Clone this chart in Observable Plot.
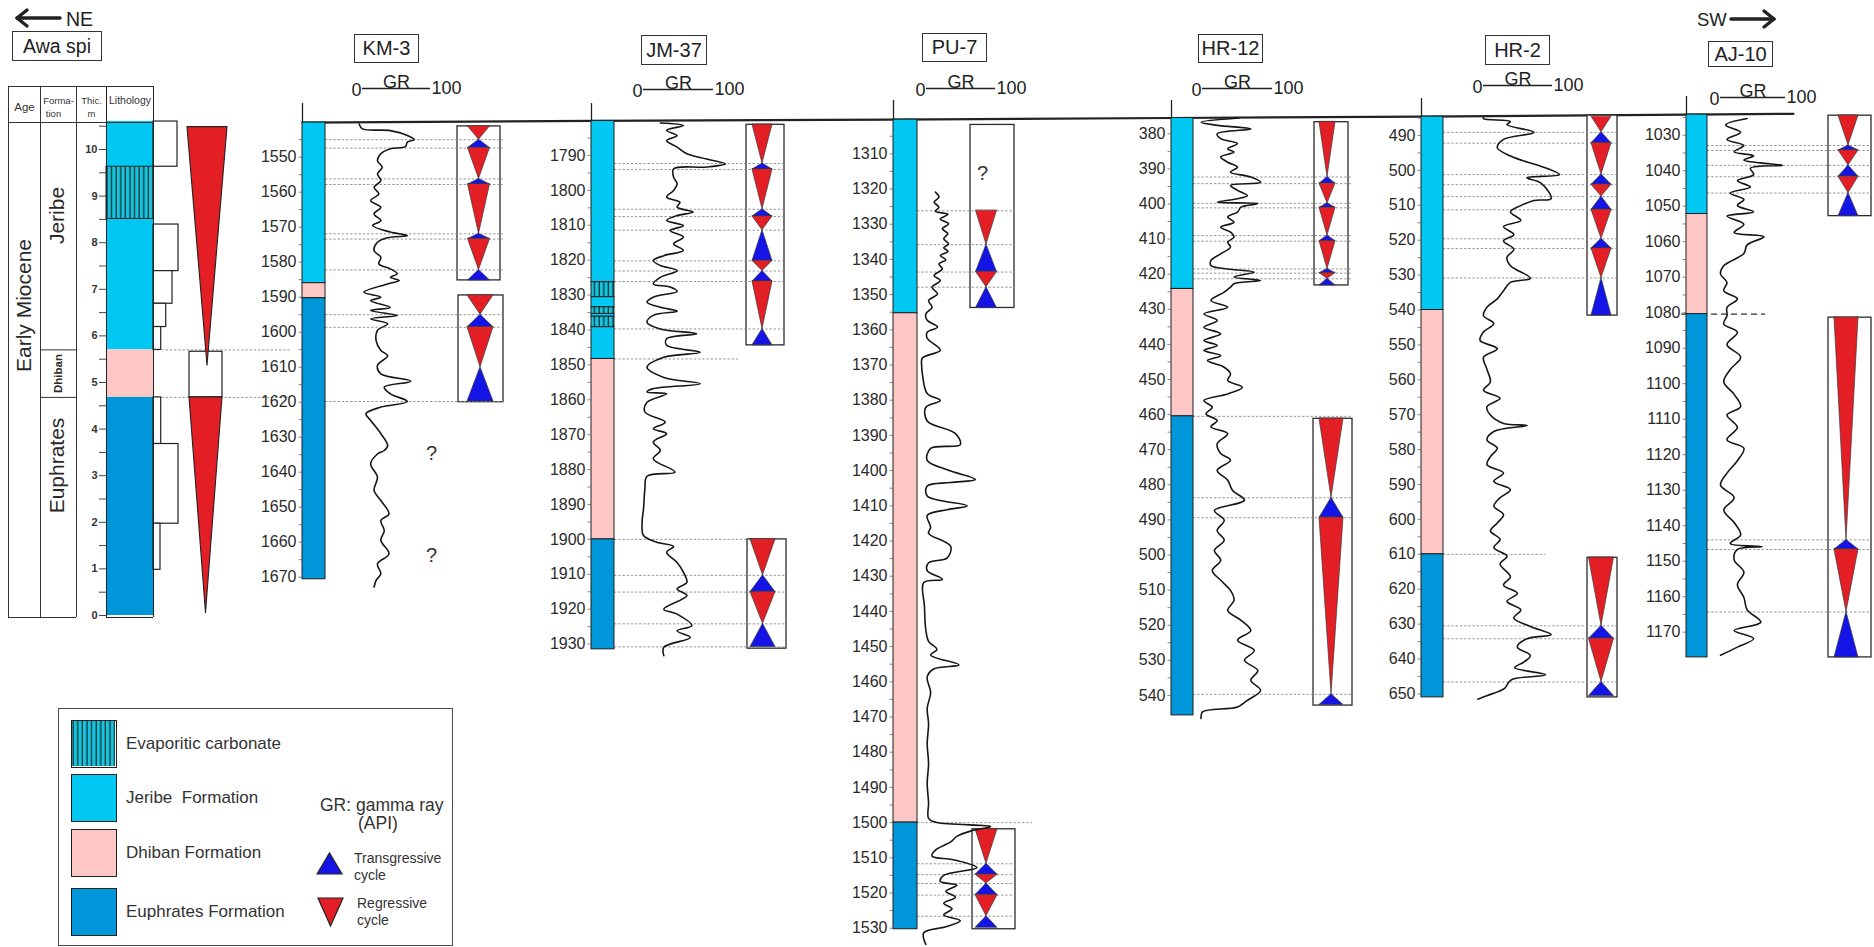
<!DOCTYPE html>
<html>
<head>
<meta charset="utf-8">
<script src="https://cdn.jsdelivr.net/npm/d3@7"></script>
<script src="https://cdn.jsdelivr.net/npm/@observablehq/plot@0.6"></script>
<style>
html,body{margin:0;padding:0;background:#fff;}
body{font-family:"Liberation Sans",Arial,Helvetica,sans-serif;color:#2a2a2a;}
#stage{position:relative;width:1874px;height:947px;overflow:hidden;background:#fff;}
.tbox{position:absolute;border:1.6px solid #333;box-sizing:border-box;display:flex;align-items:center;justify-content:center;font-size:20px;color:#222;background:#fff;}
.lbl{position:absolute;white-space:pre;line-height:1;color:#333;}
.sw{position:absolute;left:12px;width:46px;height:48px;border:1.6px solid #222;box-sizing:border-box;}
</style>
</head>
<body>
<svg width="0" height="0" style="position:absolute">
  <defs>
    <pattern id="hatch" patternUnits="userSpaceOnUse" width="4.6" height="10">
      <rect width="4.6" height="10" fill="#16c4dc"/>
      <line x1="1.2" y1="0" x2="1.2" y2="10" stroke="#10303a" stroke-width="1.3"/>
    </pattern>
  </defs>
</svg>
<div id="stage"></div>
<script>
// ================= categories =================
const wells = ["KM-3", "JM-37", "PU-7", "HR-12", "HR-2", "AJ-10"];
const legendItems = [["H", "Evaporitic carbonate"], ["J", "Jeribe  Formation"], ["D", "Dhiban Formation"], ["E", "Euphrates Formation"]];

// ================= tick labels (depth, m) =================
const km3Ticks = [1550,1560,1570,1580,1590,1600,1610,1620,1630,1640,1650,1660,1670];
const jm37Ticks = [1790,1800,1810,1820,1830,1840,1850,1860,1870,1880,1890,1900,1910,1920,1930];
const pu7Ticks = [1310,1320,1330,1340,1350,1360,1370,1380,1390,1400,1410,1420,1430,1440,1450,1460,1470,1480,1490,1500,1510,1520,1530];
const hr12Ticks = [380,390,400,410,420,430,440,450,460,470,480,490,500,510,520,530,540];
const hr2Ticks = [490,500,510,520,530,540,550,560,570,580,590,600,610,620,630,640,650];
const aj10Ticks = [1030,1040,1050,1060,1070,1080,1090,1100,1110,1120,1130,1140,1150,1160,1170];
const awaTicks = [0,1,2,3,4,5,6,7,8,9,10];

// ================= formations [code, top, bottom] (J Jeribe, H evaporitic, D Dhiban, E Euphrates) =================
const km3Formations = [["J",1540.1,1586],["D",1586,1590.3],["E",1590.3,1670.6]];
const jm37Formations = [["J",1780.1,1826.3],["H",1826.3,1830.6],["J",1830.6,1833.5],["H",1833.5,1835.4],["J",1835.4,1836.2],["H",1836.2,1839.2],["J",1839.2,1848.3],["D",1848.3,1900],["E",1900,1931.5]];
const pu7Formations = [["J",1300.3,1355.3],["D",1355.3,1500],["E",1500,1530.3]];
const hr12Formations = [["J",375.5,424.2],["D",424.2,460.5],["E",460.5,545.7]];
const hr2Formations = [["J",484.6,540],["D",540,610],["E",610,651]];
const aj10Formations = [["J",1024.2,1052.2],["D",1052.2,1080.4],["E",1080.4,1177.1]];
const awaLithology = [["J",10.6,9.63],["H",9.63,8.51],["J",8.51,5.70],["D",5.70,4.68],["E",4.68,0]];

// ================= gamma-ray logs [depth, GR API] =================
const km3GR = [[1540.5,-5],[1541.9,0],[1542.4,41],[1543.8,66],[1545.0,76],[1545.7,66],[1547.0,63],[1547.6,41],[1549.0,27],[1551.0,22],[1552.9,29],[1554.8,22],[1556.7,27],[1558.6,17],[1560.5,24],[1562.4,12],[1564.3,27],[1566.2,17],[1568.1,27],[1569.5,15],[1571.4,41],[1572.4,66],[1573.0,37],[1574.3,22],[1576.7,17],[1578.6,27],[1580.5,24],[1581.9,41],[1583.3,51],[1584.3,41],[1585.2,54],[1586.2,37],[1588.6,2],[1590.0,27],[1591.0,12],[1592.9,41],[1593.8,12],[1595.2,51],[1596.2,12],[1597.6,37],[1599.5,22],[1602.4,20],[1605.2,27],[1606.7,37],[1609.5,22],[1611.9,27],[1614.0,71],[1615.7,32],[1617.6,41],[1619.8,66],[1621.4,27],[1623.3,5],[1625.2,12],[1629.0,27],[1632.4,37],[1633.8,32],[1634.8,22],[1637.6,12],[1641.4,22],[1645.2,17],[1648.1,27],[1651.9,39],[1653.8,27],[1656.7,32],[1659.5,27],[1663.3,39],[1666.2,22],[1669.0,27],[1670.9,20],[1672.8,17]];
const jm37GR = [[1780.7,24],[1781.4,57],[1782.8,33],[1784.3,48],[1785.7,33],[1787.6,48],[1789.5,62],[1791.0,90],[1792.4,117],[1793.3,90],[1793.8,43],[1796.2,43],[1798.1,48],[1800.0,43],[1801.9,33],[1803.4,52],[1804.8,48],[1806.2,71],[1807.2,48],[1808.6,33],[1810.1,57],[1811.5,38],[1813.4,57],[1815.3,43],[1817.2,57],[1818.7,29],[1820.1,14],[1821.5,24],[1823.0,48],[1824.9,24],[1826.8,14],[1827.7,38],[1828.9,48],[1830.6,14],[1832.0,5],[1833.5,24],[1834.6,48],[1835.8,14],[1837.8,5],[1839.7,24],[1841.1,76],[1842.5,33],[1844.4,33],[1846.4,81],[1847.8,29],[1850.7,5],[1853.6,29],[1855.4,81],[1856.8,14],[1857.8,5],[1858.3,33],[1860.7,5],[1863.5,2],[1866.4,31],[1868.3,14],[1869.7,33],[1872.1,14],[1874.5,24],[1876.9,14],[1880.7,45],[1881.9,5],[1885.5,2],[1891.3,0],[1895.1,-2],[1898.9,0],[1900.8,19],[1902.0,43],[1903.7,33],[1906.6,48],[1909.4,57],[1912.3,62],[1914.2,48],[1916.1,62],[1920.0,29],[1921.4,48],[1924.7,69],[1926.2,48],[1928.1,67],[1930.9,29],[1933.3,29]];
const pu7GR = [[1320.9,13],[1322.3,18],[1323.7,11],[1325.2,18],[1326.3,13],[1327.2,31],[1328.5,20],[1329.9,32],[1331.3,23],[1332.7,31],[1334.1,25],[1335.6,32],[1336.7,25],[1337.7,31],[1338.9,20],[1340.1,28],[1341.3,18],[1342.7,23],[1344.6,11],[1346.0,20],[1347.9,8],[1349.8,16],[1351.7,3],[1353.6,8],[1355.5,-1],[1357.3,1],[1359.2,16],[1360.7,1],[1362.4,1],[1365.8,20],[1368.0,-6],[1370.3,-7],[1372.5,-6],[1378.1,1],[1380.1,20],[1382.0,-1],[1385.9,1],[1389.5,42],[1392.6,49],[1393.7,6],[1397.1,1],[1399.9,32],[1402.5,71],[1403.4,35],[1404.4,1],[1407.2,1],[1410.0,59],[1411.1,30],[1412.7,1],[1416.1,6],[1417.8,3],[1421.5,35],[1424.8,30],[1426.2,3],[1428.4,1],[1430.9,23],[1431.8,-4],[1438.5,-3],[1445.2,-1],[1448.5,3],[1450.8,15],[1452.4,6],[1455.2,47],[1456.3,11],[1458.6,1],[1463.1,6],[1467.5,1],[1472.0,3],[1477.6,1],[1483.2,3],[1488.8,1],[1494.4,3],[1498.8,3],[1500.0,15],[1501.1,93],[1502.4,64],[1503.9,44],[1505.5,35],[1507.8,13],[1509.5,8],[1510.6,40],[1512.8,73],[1515.0,25],[1516.7,20],[1517.8,44],[1519.5,28],[1521.2,42],[1522.9,25],[1524.5,37],[1526.2,25],[1527.9,49],[1529.6,28],[1531.3,-4],[1534.6,-1]];
const hr12GR = [[375.5,52],[376.7,-2],[377.6,21],[378.6,69],[380.0,21],[381.4,26],[382.8,50],[384.3,36],[385.2,45],[386.6,26],[388.1,36],[389.5,50],[390.9,40],[392.3,69],[393.8,83],[394.7,40],[396.1,50],[397.6,64],[398.5,50],[399.5,21],[399.9,79],[400.9,55],[402.3,50],[403.7,36],[405.2,45],[406.6,26],[408.0,40],[409.4,45],[410.9,36],[412.3,40],[414.2,26],[416.1,12],[417.5,12],[418.5,36],[419.4,74],[420.8,45],[421.8,83],[422.7,45],[423.7,40],[425.1,31],[427.5,12],[429.4,36],[431.3,2],[433.2,21],[435.1,2],[437.0,26],[438.9,2],[440.3,21],[441.7,2],[443.2,26],[444.6,7],[446.5,31],[448.4,40],[450.3,36],[452.2,57],[454.1,36],[456.0,2],[457.9,14],[459.8,5],[461.7,21],[463.5,12],[465.4,36],[468.3,21],[471.1,26],[473.0,40],[475.9,21],[478.7,36],[481.6,43],[484.4,60],[487.3,17],[490.1,31],[493.0,21],[495.8,31],[498.7,17],[501.5,26],[504.4,14],[507.2,26],[510.1,40],[512.9,45],[515.8,36],[518.6,55],[521.5,69],[524.3,50],[527.2,74],[530.0,60],[532.9,79],[535.7,69],[538.6,83],[541.4,64],[543.3,50],[544.7,0],[546.6,-2]];
const hr2GR = [[484.8,0],[485.2,0],[486.0,39],[486.9,34],[489.1,73],[491.1,29],[493.5,20],[495.9,39],[497.6,63],[498.8,83],[501.2,110],[502.1,63],[503.6,83],[508.1,98],[508.6,73],[510.1,54],[511.9,39],[514.3,54],[516.1,29],[518.4,44],[520.2,29],[522.6,44],[524.9,34],[527.3,39],[530.9,68],[532.1,39],[534.5,29],[536.8,20],[539.2,5],[541.6,0],[543.9,15],[546.3,0],[548.7,-5],[551.1,20],[553.5,0],[557.0,5],[560.6,10],[563.0,0],[565.3,24],[567.7,5],[570.1,10],[572.5,29],[573.1,63],[574.8,15],[577.2,5],[579.6,20],[582.0,10],[584.3,5],[586.7,29],[589.1,15],[591.5,39],[593.8,24],[596.2,15],[598.6,29],[601.0,20],[603.3,10],[605.7,24],[608.1,15],[610.5,34],[612.8,24],[616.4,39],[618.8,29],[621.2,49],[623.5,34],[625.9,54],[628.3,44],[630.7,68],[633.0,98],[634.2,63],[636.6,49],[639.0,68],[640.8,59],[642.5,45],[644.5,90],[646.0,40],[648.5,30],[650.5,5],[651.5,-8]];
const aj10GR = [[1025.3,41],[1027.1,8],[1029.2,31],[1031.2,10],[1032.9,36],[1034.7,21],[1035.8,51],[1037.0,36],[1037.8,62],[1038.5,95],[1039.3,46],[1041.1,51],[1042.8,26],[1044.6,46],[1046.3,15],[1048.1,36],[1049.8,26],[1051.6,51],[1052.8,10],[1055.1,36],[1057.4,21],[1058.6,67],[1060.9,41],[1063.3,36],[1066.8,5],[1069.1,0],[1071.5,10],[1073.8,5],[1076.1,26],[1078.5,10],[1080.8,10],[1083.2,5],[1085.5,26],[1089.0,10],[1092.5,31],[1096.0,15],[1099.5,5],[1103.0,21],[1106.5,31],[1108.8,10],[1112.3,26],[1115.8,10],[1118.2,36],[1121.7,26],[1125.2,10],[1128.6,0],[1132.1,21],[1135.6,5],[1139.1,21],[1142.6,31],[1145.0,15],[1145.9,64],[1146.7,26],[1149.6,21],[1153.1,36],[1156.6,26],[1160.2,36],[1163.7,41],[1167.2,62],[1169.5,21],[1171.8,51],[1174.2,26],[1176.5,0]];

// ================= cycle boxes [top, bottom] and cycles [type, top, bottom] (R regressive, T transgressive) =================
const km3Boxes = [[1541.2,1585.2],[1589.5,1620]];
const km3Cycles = [["R",1541.2,1545],["T",1545,1547.4],["R",1547.4,1556.2],["T",1556.2,1557.8],["R",1557.8,1571.9],["T",1571.9,1573.4],["R",1573.4,1582.2],["T",1582.2,1585.2],["R",1589.5,1595],["T",1595,1598.6],["R",1598.6,1610],["T",1610,1619.8]];
const jm37Boxes = [[1781.2,1844.4],[1900,1931.3]];
const jm37Cycles = [["R",1781.2,1792.3],["T",1792.3,1794],["R",1794,1805.4],["T",1805.4,1807.5],["R",1807.5,1811.4],["T",1811.4,1820.2],["R",1820.2,1823.1],["T",1823.1,1826.1],["R",1826.1,1839.7],["T",1839.7,1844.4],["R",1900,1910.3],["T",1910.3,1915.1],["R",1915.1,1924.2],["T",1924.2,1930.8]];
const pu7Boxes = [[1301.8,1353.8],[1501.9,1530.3]];
const pu7Cycles = [["R",1326.2,1335.8],["T",1335.8,1343.6],["R",1343.6,1347.9],["T",1347.9,1353.8],["R",1501.9,1511.7],["T",1511.7,1514.8],["R",1514.8,1517.3],["T",1517.3,1520.6],["R",1520.6,1526.6],["T",1526.6,1529.9]];
const hr12Boxes = [[376.7,423.2],[461.2,542.9]];
const hr12Cycles = [["R",376.7,392.3],["T",392.3,394.2],["R",394.2,399.8],["T",399.8,401.1],["R",401.1,409.0],["T",409.0,410.6],["R",410.6,418.5],["T",418.5,419.7],["R",419.7,421.3],["T",421.3,423.2],["R",461.2,483.7],["T",483.7,489.4],["R",489.4,539.7],["T",539.7,542.7]];
const hr2Boxes = [[484.3,541.6],[611,651]];
const hr2Cycles = [["R",484.6,489.1],["T",489.1,492.2],["R",492.2,501.2],["T",501.2,504.1],["R",504.1,507.5],["T",507.5,511.3],["R",511.3,519.6],["T",519.6,522.4],["R",522.4,530.8],["T",530.8,541.6],["R",611,630.5],["T",630.5,634.2],["R",634.2,646.6],["T",646.6,650.6]];
const aj10Boxes = [[1024.5,1052.8],[1081.4,1177.1]];
const aj10Cycles = [["R",1024.5,1032.9],["T",1032.9,1034.3],["R",1034.3,1038.5],["T",1038.5,1041.7],["R",1041.7,1046.3],["T",1046.3,1052.8],["R",1081.4,1144.0],["T",1144.0,1146.7],["R",1146.7,1164.3],["T",1164.3,1177.1]];
const awaCycles = [["R",10.48,5.36],["R",4.68,0.05]];

// ================= correlation markers (depth, m) =================
const km3Markers = [1545,1547.4,1556.2,1557.8,1571.9,1573.4,1582.2,1595,1598.6,1619.8];
const jm37Markers = [1792.3,1794,1805.4,1807.5,1811.4,1820.2,1823.1,1826.1,1839.7,1910.3,1915.1,1924.2,1930.8];
const pu7Markers = [1326.2,1335.8,1343.6,1347.9,1511.7,1514.8,1517.3,1520.6,1526.6];
const hr12Markers = [392.3,394.2,399.8,401.1,409.0,410.6,418.5,419.7,421.3,483.7,489.4,539.7];
const hr2Markers = [489.1,492.2,501.2,504.1,507.5,511.3,519.6,522.4,530.8,630.5,634.2,646.6];
const aj10Markers = [1032.9,1034.3,1038.5,1041.7,1046.3,1144.0,1146.7,1164.3];
const km3FmLines = [], jm37FmLines = [1848.3,1900], pu7FmLines = [1500], hr12FmLines = [460.5], hr2FmLines = [610], aj10FmLines = [1080.4];
const km3Unknown = [1634.8,1663.9], pu7Unknown = [1315.6];
const awaBoundaries = [5.70, 4.68];

// ================= Awa spi texture profile [top, bottom, relative size] =================
const awaTexture = [[10.6,9.63,24],[8.39,7.39,25],[7.39,6.69,19],[6.69,6.19,12.7],[6.19,5.70,7.7],[4.68,3.68,7.7],[3.68,1.97,25],[1.97,0.98,7]];
const awaGap = [[5.66,4.68]];

// ================= styles / layout =================
const W = 1874, H = 947;
const COLORS = {J:"#00c8f2", H:"url(#hatch)", D:"#fcc7c5", E:"#0097da", R:"#e31e24", T:"#1414e6"};
const colorScale = {type:"ordinal", domain:Object.keys(COLORS), range:Object.values(COLORS)};
const FONT = "'Liberation Sans', Arial, Helvetica, sans-serif";
const LAYOUT = {
  "KM-3":  {col:[302,325],   gr:[362,430],   ref:[1550,156.7], pxm:3.5,  headerY:88, tickY:103, boxX:[[457,500],[458,503]],   triC:[478.5,480], triW:[11,13],  qX:431, fmEnd:[], title:[354,34,65,29]},
  "JM-37": {col:[591,614],   gr:[643,713],   ref:[1790,155],   pxm:3.49, headerY:89, tickY:103, boxX:[[746,784],[747,786]],   triC:[762,762.5], triW:[10,12.5], fmEnd:[740,786], title:[641,35,66,30]},
  "PU-7":  {col:[893,917],   gr:[926,995],   ref:[1310,153.3], pxm:3.52, headerY:88, tickY:100, boxX:[[970,1014],[972,1015]], triC:[986,986],   triW:[10.5,11], qX:982, fmEnd:[1032], title:[922,33,65,29]},
  "HR-12": {col:[1171,1193], gr:[1202,1272], ref:[380,133.3],  pxm:3.51, headerY:88, tickY:100, boxX:[[1314,1348],[1313,1352]], triC:[1327,1331], triW:[8,12], fmEnd:[1352], title:[1198,34,65,29]},
  "HR-2":  {col:[1421,1443], gr:[1483,1552], ref:[490,135],    pxm:3.49, headerY:85, tickY:98,  boxX:[[1587,1617],[1587,1617]], triC:[1601,1601], triW:[10,12.5], fmEnd:[1545], title:[1485,35,65,30]},
  "AJ-10": {col:[1686,1707], gr:[1720,1785], ref:[1030,134.7], pxm:3.55, headerY:97, tickY:96,  boxX:[[1828,1871],[1828,1871]], triC:[1848,1846], triW:[10,12], fmEnd:[1765], fmStart:1681, fmDark:true, title:[1708,41,65,26]}
};
const DATA = {
  "KM-3":  {ticks:km3Ticks,  formations:km3Formations,  gr:km3GR,  boxes:km3Boxes,  cycles:km3Cycles,  markers:km3Markers,  fmLines:km3FmLines,  unknown:km3Unknown},
  "JM-37": {ticks:jm37Ticks, formations:jm37Formations, gr:jm37GR, boxes:jm37Boxes, cycles:jm37Cycles, markers:jm37Markers, fmLines:jm37FmLines, unknown:[]},
  "PU-7":  {ticks:pu7Ticks,  formations:pu7Formations,  gr:pu7GR,  boxes:pu7Boxes,  cycles:pu7Cycles,  markers:pu7Markers,  fmLines:pu7FmLines,  unknown:pu7Unknown},
  "HR-12": {ticks:hr12Ticks, formations:hr12Formations, gr:hr12GR, boxes:hr12Boxes, cycles:hr12Cycles, markers:hr12Markers, fmLines:hr12FmLines, unknown:[]},
  "HR-2":  {ticks:hr2Ticks,  formations:hr2Formations,  gr:hr2GR,  boxes:hr2Boxes,  cycles:hr2Cycles,  markers:hr2Markers,  fmLines:hr2FmLines,  unknown:[]},
  "AJ-10": {ticks:aj10Ticks, formations:aj10Formations, gr:aj10GR, boxes:aj10Boxes, cycles:aj10Cycles, markers:aj10Markers, fmLines:aj10FmLines, unknown:[]}
};
const AWA = {yZero:615, yTen:149, tableX:[8,40,76,106,153], triC:[207,205.5], triW:[20,16.5], gapX:[189,222], dashEnd:290};

const stage = document.getElementById("stage");
function place(svg) {
  svg.setAttribute("style", `position:absolute;left:0;top:0;background:transparent;overflow:visible;font-family:${FONT};`);
  stage.appendChild(svg);
}

// triangle polygons for areaX
function triangles(cycles, boxes, triC, triW) {
  const rows = [];
  cycles.forEach((c, i) => {
    let b = boxes.findIndex(bx => c[1] >= bx[0] - 1 && c[2] <= bx[1] + 1);
    if (b < 0) b = 0;
    const cx = triC[b], w = triW[b];
    const wide = {x1: cx - w, x2: cx + w}, apex = {x1: cx, x2: cx};
    rows.push({id: i, t: c[0], d: c[1], ...(c[0] === "R" ? wide : apex)});
    rows.push({id: i, t: c[0], d: c[2], ...(c[0] === "R" ? apex : wide)});
  });
  return rows;
}

// ================= one plot per well =================
function wellPlot(name) {
  const L = LAYOUT[name], D = DATA[name];
  const [gx0, gx1] = L.gr;
  const u = px => (px - gx0) / (gx1 - gx0) * 100;        // layout pixel -> GR units
  const [dref, yref] = L.ref;
  const dAt = py => dref + (py - yref) / L.pxm;           // layout pixel -> depth
  const top = D.formations[0][1];
  const bottom = D.formations[D.formations.length - 1][2];
  const tri = triangles(D.cycles, D.boxes, L.triC, L.triW);
  const boxRight = Math.max(...L.boxX.map(b => b[1]));
  const minor = D.ticks.flatMap(t => [t - 5, t]).filter(t => t > top && t < bottom);
  const hd = dAt(L.headerY);
  const fm = D.fmLines.map((d, i) => ({d, end: L.fmEnd[i]}));
  const marks = [
    Plot.rect(D.boxes.map((b, i) => ({y1: b[0], y2: b[1], i})), {x1: r => u(L.boxX[r.i][0]), x2: r => u(L.boxX[r.i][1]), y1: "y1", y2: "y2", fill: "white", stroke: "#2b2b2b", strokeWidth: 1.3}),
    Plot.ruleY(D.markers, {y: d => d, x1: () => u(L.col[1]), x2: () => u(boxRight), stroke: "#8a8a8a", strokeWidth: 0.9, strokeDasharray: "2.4,1.8"}),
    Plot.ruleY(fm, {y: "d", x1: () => u(L.fmStart ?? L.col[1]), x2: r => u(r.end), stroke: L.fmDark ? "#333" : "#8a8a8a", strokeWidth: L.fmDark ? 1.2 : 0.9, strokeDasharray: L.fmDark ? "6,4" : "2.4,1.8"}),
    Plot.areaX(tri, {y: "d", x1: r => u(r.x1), x2: r => u(r.x2), z: "id", fill: "t", stroke: "#3a3a3a", strokeWidth: 0.7}),
    Plot.rect(D.formations, {x1: () => u(L.col[0]), x2: () => u(L.col[1]), y1: d => d[1], y2: d => d[2], fill: d => d[0], stroke: "#1f1f1f", strokeWidth: 1}),
    Plot.ruleY(minor, {y: d => d, x1: () => u(L.col[0] - 3.5), x2: () => u(L.col[0]), stroke: "#666", strokeWidth: 0.8}),
    Plot.text(D.ticks, {x: () => u(L.col[0]), y: d => d, text: d => String(d), textAnchor: "end", dx: -6, fontSize: 16, fill: "#2a2a2a"}),
    Plot.line(D.gr, {x: d => d[1], y: d => d[0], stroke: "#161616", strokeWidth: 1.6, strokeLinejoin: "round", curve: "catmull-rom"}),
    Plot.ruleX([0], {x: () => u(L.col[0]), y1: () => dAt(L.tickY), y2: () => top, stroke: "#222", strokeWidth: 1.3}),
    Plot.ruleY([hd], {y: d => d, x1: () => 0, x2: () => 100, stroke: "#222", strokeWidth: 1.4}),
    Plot.text([0], {x: d => d, y: () => hd, text: () => "0", textAnchor: "end", dx: -1, dy: 2, fontSize: 18, fill: "#222"}),
    Plot.text([100], {x: d => d, y: () => hd, text: () => "100", textAnchor: "start", dx: 1, dy: 0, fontSize: 18, fill: "#222"}),
    Plot.text([50], {x: d => d, y: () => hd, text: () => "GR", lineAnchor: "bottom", dy: -1, fontSize: 18, fill: "#222"}),
    Plot.text(D.unknown, {x: () => u(L.qX), y: d => d, text: () => "?", fontSize: 20, fill: "#333"})
  ];
  return Plot.plot({
    width: W, height: H, margin: 0,
    x: {domain: [0, 100], range: [gx0, gx1], axis: null},
    y: {domain: [dref, dref + 100], range: [yref, yref + 100 * L.pxm], axis: null},
    color: colorScale,
    marks
  });
}

// ================= datum line linking well tops =================
const datum = wells.map(n => {
  const L = LAYOUT[n], D = DATA[n];
  return [L.col[0], L.ref[1] + (D.formations[0][1] - L.ref[0]) * L.pxm];
});
datum.push([1793, datum[datum.length - 1][1] - 0.8]);
place(Plot.plot({
  width: W, height: H, margin: 0,
  x: {domain: [0, W], range: [0, W], axis: null},
  y: {domain: [0, H], range: [0, H], axis: null},
  marks: [Plot.line(datum, {x: d => d[0], y: d => d[1], stroke: "#222", strokeWidth: 2.2})]
}));

// ================= Awa spi reference section =================
(function () {
  const tAt = py => (AWA.yZero - py) / ((AWA.yZero - AWA.yTen) / 10);
  const [xA, xF, xT, xL, xR] = AWA.tableX;
  const headTop = tAt(86), headBot = tAt(122), bot = tAt(617);
  const tri = triangles(awaCycles, [[10.6, 5], [4.7, 0]], AWA.triC, AWA.triW);
  const half = awaTicks.flatMap(t => [t, t + 0.5]);
  place(Plot.plot({
    width: W, height: H, margin: 0,
    x: {domain: [0, W], range: [0, W], axis: null},
    y: {domain: [0, 10], range: [AWA.yZero, AWA.yTen], axis: null},
    color: colorScale,
    marks: [
      Plot.rect(awaLithology, {x1: xL, x2: xR, y1: d => d[1], y2: d => d[2], fill: d => d[0]}),
      Plot.rect(awaLithology.filter(d => d[0] === "H"), {x1: xL, x2: xR, y1: d => d[1], y2: d => d[2], fill: "none", stroke: "#222", strokeWidth: 1}),
      Plot.ruleY(awaBoundaries, {y: d => d, x1: xR, x2: AWA.dashEnd, stroke: "#8a8a8a", strokeWidth: 0.9, strokeDasharray: "2.4,1.8"}),
      Plot.rect(awaTexture, {x1: xR, x2: d => xR + d[2], y1: d => d[0], y2: d => d[1], fill: "white", stroke: "#222", strokeWidth: 1.2}),
      Plot.rect(awaGap, {x1: AWA.gapX[0], x2: AWA.gapX[1], y1: d => d[0], y2: d => d[1], fill: "white", stroke: "#222", strokeWidth: 1.2}),
      Plot.areaX(tri, {y: "d", x1: "x1", x2: "x2", z: "id", fill: "t", stroke: "#222", strokeWidth: 1.1}),
      // table frame
      Plot.ruleX([xA, xF, xT], {x: d => d, y1: bot, y2: headTop, stroke: "#333", strokeWidth: 1}),
      Plot.ruleX([xL, xR], {x: d => d, y1: bot, y2: headTop, stroke: "#222", strokeWidth: 1}),
      Plot.ruleY([headTop, headBot], {y: d => d, x1: xA, x2: xR, stroke: "#333", strokeWidth: 1}),
      Plot.ruleY([bot], {y: d => d, x1: xA, x2: xT, stroke: "#333", strokeWidth: 1}),
      Plot.ruleY([bot], {y: d => d, x1: xL, x2: xR, stroke: "#222", strokeWidth: 1}),
      Plot.ruleY(awaBoundaries, {y: d => d, x1: xF, x2: xT, stroke: "#333", strokeWidth: 1}),
      // thickness axis
      Plot.ruleY(half.filter(t => t <= 10.5), {y: d => d, x1: xL - 7, x2: xL, stroke: "#444", strokeWidth: 1}),
      Plot.text(awaTicks, {x: xL - 9, y: d => d, text: d => String(d), textAnchor: "end", fontSize: 11, fontWeight: "bold", fill: "#333"}),
      // header labels
      Plot.text(["Age"], {x: (xA + xF) / 2, y: tAt(107), text: d => d, fontSize: 11.5, fill: "#333"}),
      Plot.text(["Forma-"], {x: (xF + xT) / 2, y: tAt(100), text: d => d, fontSize: 9.5, fill: "#333"}),
      Plot.text(["tion"], {x: (xF + xT) / 2 - 5, y: tAt(113), text: d => d, fontSize: 9.5, fill: "#333"}),
      Plot.text(["Thic."], {x: (xT + xL) / 2, y: tAt(100), text: d => d, fontSize: 9.5, fill: "#333"}),
      Plot.text(["m"], {x: (xT + xL) / 2, y: tAt(113), text: d => d, fontSize: 9.5, fill: "#333"}),
      Plot.text(["Lithology"], {x: (xL + xR) / 2, y: tAt(100), text: d => d, fontSize: 10.5, fill: "#333"}),
      // rotated age / formation names
      Plot.text(["Early Miocene"], {x: (xA + xF) / 2, y: tAt(305), text: d => d, rotate: -90, fontSize: 21, fill: "#2a2a2a"}),
      Plot.text(["Jeribe"], {x: (xF + xT) / 2 - 1, y: tAt(215), text: d => d, rotate: -90, fontSize: 21, fill: "#2a2a2a"}),
      Plot.text(["Dhiban"], {x: (xF + xT) / 2, y: tAt(373), text: d => d, rotate: -90, fontSize: 11.5, fontWeight: "bold", fill: "#2a2a2a"}),
      Plot.text(["Euphrates"], {x: (xF + xT) / 2 - 1, y: tAt(465), text: d => d, rotate: -90, fontSize: 21, fill: "#2a2a2a"})
    ]
  }));
})();

// ================= wells =================
wells.forEach(n => place(wellPlot(n)));

// ================= titles, arrows, legend (HTML) =================
function box(text, [x, y, w, h], fs) {
  const d = document.createElement("div");
  d.className = "tbox";
  d.style.cssText = `left:${x}px;top:${y}px;width:${w}px;height:${h}px;font-size:${fs}px;`;
  d.textContent = text;
  stage.appendChild(d);
}
wells.forEach(n => box(n, LAYOUT[n].title, 20));
box("Awa spi", [12, 31, 90, 30], 19.5);

const arrows = document.createElementNS("http://www.w3.org/2000/svg", "svg");
arrows.setAttribute("width", W); arrows.setAttribute("height", H);
arrows.setAttribute("style", `position:absolute;left:0;top:0;overflow:visible;font-family:${FONT};`);
arrows.innerHTML = `
  <g stroke="#222" stroke-width="3.4" fill="none" stroke-linecap="round" stroke-linejoin="round">
    <path d="M17,18 H60"/><path d="M27,10 L17,18 L27,26"/>
    <path d="M1731,19 H1774"/><path d="M1764,11 L1774,19 L1764,27"/>
  </g>
  <text x="66" y="26" font-size="19.5" fill="#222">NE</text>
  <text x="1697" y="26" font-size="18.5" fill="#222">SW</text>`;
stage.appendChild(arrows);

const lg = document.createElement("div");
lg.style.cssText = "position:absolute;left:58px;top:708px;width:395px;height:238px;border:1.6px solid #4a4a4a;box-sizing:border-box;background:#fff;";
const rowTop = [11, 65, 120, 179];
legendItems.forEach(([code, label], i) => {
  const s = document.createElement("div");
  s.className = "sw";
  s.style.top = rowTop[i] + "px";
  s.style.background = code === "H" ? "none" : COLORS[code];
  if (code === "H") s.innerHTML = `<svg width="43" height="45" style="display:block"><rect width="43" height="45" fill="url(#hatch)"/></svg>`;
  lg.appendChild(s);
  const t = document.createElement("div");
  t.className = "lbl";
  t.style.cssText = `left:67px;top:${rowTop[i] + 15}px;font-size:17px;`;
  t.textContent = label;
  lg.appendChild(t);
});
const extra = [
  ["GR: gamma ray", 261, 88, 17.5], ["(API)", 299, 106, 17.5],
  ["Transgressive", 295, 142, 14], ["cycle", 295, 159, 14],
  ["Regressive", 298, 187, 14], ["cycle", 298, 204, 14]
];
extra.forEach(([txt, x, y, fs]) => {
  const t = document.createElement("div");
  t.className = "lbl";
  t.style.cssText = `left:${x}px;top:${y}px;font-size:${fs}px;`;
  t.textContent = txt;
  lg.appendChild(t);
});
const sym = document.createElementNS("http://www.w3.org/2000/svg", "svg");
sym.setAttribute("width", 395); sym.setAttribute("height", 238);
sym.setAttribute("style", "position:absolute;left:0;top:0;");
sym.innerHTML = `<path d="M258,165 L270.5,144 L283,165 Z" fill="${COLORS.T}" stroke="#222" stroke-width="1.2"/>
  <path d="M259,189 L284,189 L271.5,217 Z" fill="${COLORS.R}" stroke="#222" stroke-width="1.2"/>`;
lg.appendChild(sym);
stage.appendChild(lg);
</script>
</body>
</html>
